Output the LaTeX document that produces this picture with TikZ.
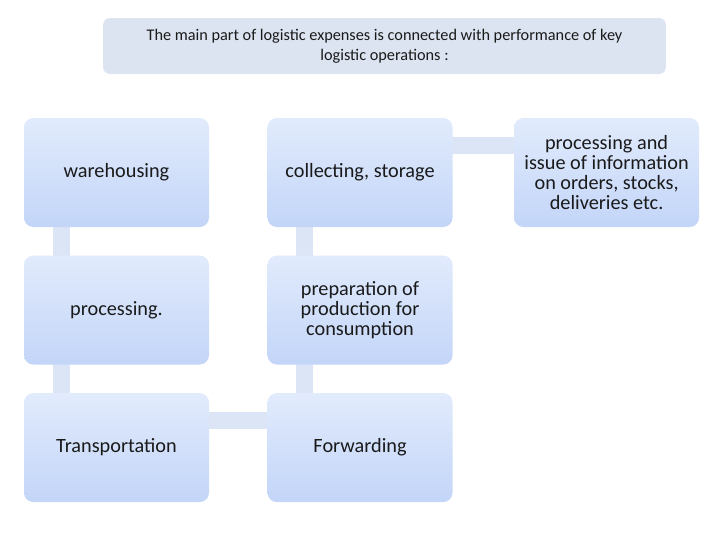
\documentclass[tikz,border=0pt]{standalone}
\usepackage{fontspec}
\setmainfont{Carlito}
\usepackage{xcolor}
\usetikzlibrary{positioning, backgrounds}

\definecolor{boxtop}{HTML}{E1EBFC}
\definecolor{boxbot}{HTML}{C3D5F8}
\definecolor{linkcol}{HTML}{DCE5F6}
\definecolor{headcol}{HTML}{DBE4F0}
\definecolor{txtcol}{HTML}{1A1A1A}

\tikzset{
  opbox/.style={rectangle, rounded corners=7pt, top color=boxtop, bottom color=boxbot,
    minimum width=138.75pt, minimum height=81.75pt, text width=130pt, align=flush center,
    text=txtcol, font=\fontsize{15.2}{14.8}\selectfont, inner sep=0pt},
  link/.style={draw=linkcol, line width=12.5pt}
}

\begin{document}
\begin{tikzpicture}[x=0.75pt, y=-0.75pt, node distance=21pt and 43.5pt]
    \useasboundingbox (0,0) rectangle (720,540);

    \node (head) [rectangle, rounded corners=5pt, fill=headcol, minimum width=422pt, minimum height=42pt,
      text width=375pt, align=flush center, text=txtcol, font=\fontsize{12.2}{15.2}\selectfont] at (384.5,46)
      {The main part of logistic expenses is connected with performance of key logistic operations :};

    \node (ware) [opbox] at (116.5,172.5) {warehousing};
    \node (proc) [opbox, below=of ware] {processing.};
    \node (trans) [opbox, below=of proc] {Transportation};
    \node (coll) [opbox, right=of ware] {collecting, storage};
    \node (prep) [opbox, below=of coll] {preparation of\\ production for\\ consumption};
    \node (forw) [opbox, below=of prep] {Forwarding};
    \node (info) [opbox, right=45.75pt of coll] {processing and\\ issue of information\\ on orders, stocks,\\ deliveries etc.};

    \begin{scope}[on background layer]
      \draw [link] ([xshift=-41.5pt]ware.center) -- ([xshift=-41.5pt]proc.center);
      \draw [link] ([xshift=-41.5pt]proc.center) -- ([xshift=-41.5pt]trans.center);
      \draw [link] ([yshift=20.25pt]trans.center) -- ([yshift=20.25pt]forw.center);
      \draw [link] ([xshift=-41.5pt]forw.center) -- ([xshift=-41.5pt]prep.center);
      \draw [link] ([xshift=-41.5pt]prep.center) -- ([xshift=-41.5pt]coll.center);
      \draw [link] ([yshift=20.25pt]coll.center) -- ([yshift=20.25pt]info.center);
    \end{scope}
\end{tikzpicture}
\end{document}
